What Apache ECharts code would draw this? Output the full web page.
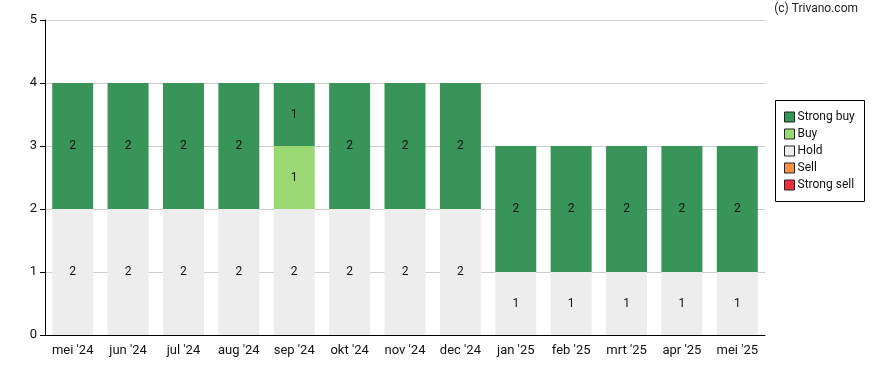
<!DOCTYPE html>
<html><head><meta charset="utf-8">
<script src="https://cdn.jsdelivr.net/npm/echarts@6/dist/echarts.min.js"></script>
<style>html,body{margin:0;padding:0;background:#fff}#c{width:888px;height:370px}</style>
</head><body><div id="c"></div>
<script>
var categories = ["mei '24","jun '24","jul '24","aug '24","sep '24","okt '24","nov '24","dec '24","jan '25","feb '25","mrt '25","apr '25","mei '25"];
var strongSell = [0,0,0,0,0,0,0,0,0,0,0,0,0];
var sell       = [0,0,0,0,0,0,0,0,0,0,0,0,0];
var hold       = [2,2,2,2,2,2,2,2,1,1,1,1,1];
var buy        = [0,0,0,0,1,0,0,0,0,0,0,0,0];
var strongBuy  = [2,2,2,2,1,2,2,2,2,2,2,2,2];
var yTicks = [0,1,2,3,4,5];

var chart = echarts.init(document.getElementById('c'), null, {renderer:'canvas'});
var font = 'Roboto, "Liberation Sans", sans-serif';
function s(name, data, color){
  return {name:name, type:'bar', stack:'a', data:data, barCategoryGap:'26%',
    itemStyle:{color:color},
    label:{show:true, position:'inside', color:'#111', fontSize:12, fontFamily:font,
      formatter:function(p){return p.value ? String(p.value) : '';}},
    emphasis:{disabled:true}};
}
chart.setOption({
  animation:false,
  graphic:[
    {type:'text', right:30, top:3, style:{text:'(c) Trivano.com', fontSize:12, fontFamily:font, fill:'#222'}},
    {type:'rect', shape:{x:775.5, y:100.5, width:89, height:101}, style:{fill:'#fff', stroke:'#000', lineWidth:1}, z:0}
  ],
  legend:{
    orient:'vertical', left:779, top:106, itemWidth:10, itemHeight:10, itemGap:5,
    icon:'rect', selectedMode:false, z:5,
    textStyle:{fontSize:12, fontFamily:font, color:'#111', padding:[0,0,0,-2]},
    data:[
      {name:'Strong buy', itemStyle:{borderColor:'#222', borderWidth:1}},
      {name:'Buy', itemStyle:{borderColor:'#222', borderWidth:1}},
      {name:'Hold', itemStyle:{borderColor:'#222', borderWidth:1}},
      {name:'Sell', itemStyle:{borderColor:'#222', borderWidth:1}},
      {name:'Strong sell', itemStyle:{borderColor:'#222', borderWidth:1}}
    ]
  },
  grid:{left:45, right:123, top:20, bottom:35, containLabel:false},
  xAxis:{type:'category', data:categories,
    axisLine:{lineStyle:{color:'#000', width:1}},
    axisTick:{alignWithLabel:true, length:5, lineStyle:{color:'#000'}},
    axisLabel:{color:'#111', fontSize:13, fontFamily:font, margin:9, interval:0}},
  yAxis:{type:'value', min:0, max:5, interval:1,
    axisLine:{show:true, lineStyle:{color:'#000', width:1}},
    axisTick:{show:true, length:5, lineStyle:{color:'#000'}},
    splitLine:{lineStyle:{color:'#cccccc'}},
    axisLabel:{color:'#111', fontSize:13, fontFamily:font, margin:8,
      formatter:function(v){return yTicks.indexOf(v)>=0 ? String(v) : '';}}},
  series:[
    s('Strong sell', strongSell, '#e8313f'),
    s('Sell', sell, '#f8934e'),
    s('Hold', hold, '#ededed'),
    s('Buy', buy, '#99d872'),
    s('Strong buy', strongBuy, '#389458')
  ]
});
</script></body></html>
